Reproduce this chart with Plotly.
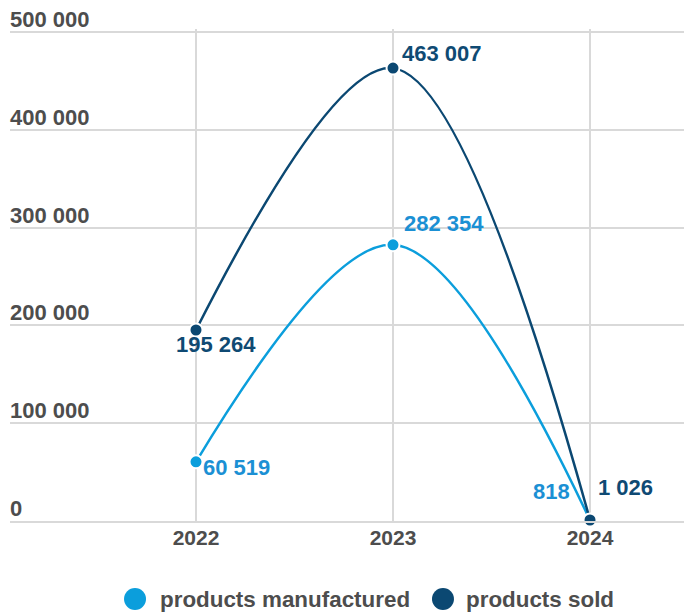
import plotly.graph_objects as go

# Yearly figures
years = [2022, 2023, 2024]
manufactured = [60519, 282354, 818]
sold = [195264, 463007, 1026]
series_names = ["products manufactured", "products sold"]
y_ticks = [0, 100000, 200000, 300000, 400000, 500000]

C_MAN = "#0b9edc"
C_MAN_TXT = "#1b90d4"
C_SOLD = "#0b4872"
C_SOLD_TXT = "#0f4a73"
GRID = "#d9d9d9"
TXT = "#4d4d4d"
FONT = "Liberation Sans, Arial, sans-serif"


def fmt(v):
    return f"{v:,}".replace(",", " ")


fig = go.Figure()
for name, vals, col in [(series_names[0], manufactured, C_MAN),
                        (series_names[1], sold, C_SOLD)]:
    fig.add_trace(go.Scatter(
        x=years, y=vals, name=name, mode="lines+markers",
        line=dict(color=col, width=2.5, shape="spline", smoothing=1),
        marker=dict(size=13, color=col, line=dict(color="white", width=2)),
        cliponaxis=False, showlegend=False, hoverinfo="skip",
    ))

# value labels: (x, y, colour, xanchor, xshift, yshift)
label_specs = [
    (years[0], sold[0], C_SOLD_TXT, "center", 20, -14),
    (years[1], sold[1], C_SOLD_TXT, "left", 7, 15),
    (years[2], sold[2], C_SOLD_TXT, "left", 6, 33),
    (years[0], manufactured[0], C_MAN_TXT, "left", 5, -6),
    (years[1], manufactured[1], C_MAN_TXT, "left", 9, 21),
    (years[2], manufactured[2], C_MAN_TXT, "right", -18, 29),
]
for x, y, col, xa, xs, ys in label_specs:
    fig.add_annotation(
        x=x, y=y, text=fmt(y), showarrow=False,
        xanchor=xa, yanchor="middle", xshift=xs, yshift=ys,
        font=dict(family=FONT, size=22, color=col, weight="bold"),
    )

# y-axis labels sit just above their gridlines, flush with the left edge
for v in y_ticks:
    fig.add_annotation(
        x=0, xref="paper", y=v, yref="y", text=fmt(v), showarrow=False,
        xanchor="left", yanchor="bottom", yshift=-2, xshift=-2,
        font=dict(family=FONT, size=22, color=TXT, weight="bold"),
    )

# legend built from circles and labels below the plot
top_margin = 29
plot_h = 612 - top_margin - 91
leg_y = (521 - 599) / plot_h
legend_items = [
    (series_names[0], C_MAN, 0.1855, 0.2226),
    (series_names[1], C_SOLD, 0.6424, 0.6766),
]
for name, col, cx, tx in legend_items:
    fig.add_shape(
        type="circle", xref="paper", yref="paper",
        xsizemode="pixel", ysizemode="pixel",
        xanchor=cx, yanchor=leg_y,
        x0=-11, x1=11, y0=-11, y1=11,
        fillcolor=col, line=dict(width=0),
    )
    fig.add_annotation(
        x=tx, y=leg_y, xref="paper", yref="paper", text=name,
        showarrow=False, xanchor="left", yanchor="middle", xshift=-2,
        font=dict(family=FONT, size=22.4, color=TXT, weight="bold"),
    )

fig.update_layout(
    width=684, height=612,
    margin=dict(l=10, r=0, t=top_margin, b=91),
    paper_bgcolor="white", plot_bgcolor="white",
    font=dict(family=FONT, size=22, color=TXT),
    showlegend=False,
)
fig.update_xaxes(
    range=[2021.056, 2024.477], tickvals=years, ticktext=[str(y) for y in years],
    showgrid=True, gridcolor=GRID, gridwidth=2,
    showline=True, linecolor=GRID, linewidth=2,
    zeroline=False, ticks="", ticklabelstandoff=-3,
    tickfont=dict(family=FONT, size=21, color=TXT, weight="bold"),
)
fig.update_yaxes(
    range=[0, 503000], tickvals=y_ticks, showticklabels=False,
    showgrid=True, gridcolor=GRID, gridwidth=2, zeroline=False,
    showline=False, ticks="",
)

fig.write_html("out.html")
